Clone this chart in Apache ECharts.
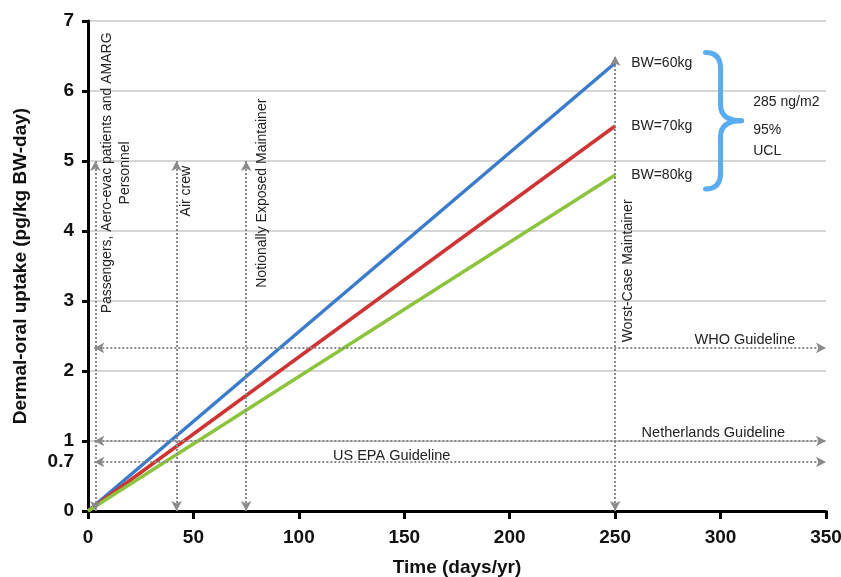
<!DOCTYPE html>
<html>
<head>
<meta charset="utf-8">
<script src="https://cdn.jsdelivr.net/npm/echarts@6/dist/echarts.min.js"></script>
<style>
  html, body { margin: 0; padding: 0; background: #fff; }
  #chart { width: 841px; height: 577px; }
</style>
</head>
<body>
<div id="chart"></div>
<script>
// uptake vs exposure days, one line per body weight
const days = [0, 250];
const bw60 = [0, 6.4];
const bw70 = [0, 5.5];
const bw80 = [0, 4.8];
const seriesNames = ['BW=60kg', 'BW=70kg', 'BW=80kg'];

// y tick labels (0.7 is added for the EPA guideline)
const yTicks = [0, 0.7, 1, 2, 3, 4, 5, 6, 7];

// horizontal guidelines
const guideNames = ['WHO Guideline', 'Netherlands Guideline', 'US EPA Guideline'];
const guideValues = [2.33, 1, 0.7];

// exposure groups (days/yr) and how high their arrows go
const groupNames = [
  'Passengers, Aero-evac patients and AMARG\nPersonnel',
  'Air crew',
  'Notionally Exposed Maintainer',
  'Worst-Case Maintainer'
];
const groupDays = [3.5, 42, 75, 250];
const groupTops = [5, 5, 5, 6.5];

const FONT = 'Liberation Sans';
const lineColors = ['#3b7bcc', '#cf3434', '#8cc43d'];

const chart = echarts.init(document.getElementById('chart'));

const series = [bw60, bw70, bw80].map((vals, i) => ({
  name: seriesNames[i],
  type: 'line',
  data: days.map((d, k) => [d, vals[k]]),
  symbol: 'none',
  lineStyle: { color: lineColors[i], width: 3.5 },
  itemStyle: { color: lineColors[i] },
  endLabel: {
    show: true, formatter: '{a}', distance: 16,
    color: '#222', fontSize: 14, fontFamily: FONT
  },
  z: 3
}));

// dotted arrows for guidelines and exposure groups
series[0].markLine = {
  silent: true,
  animation: false,
  symbol: ['arrow', 'arrow'],
  symbolSize: [8, 10],
  label: { show: false },
  lineStyle: { color: '#8a8a8a', type: 'dotted', width: 2 },
  emphasis: { disabled: true },
  data: [
    ...guideValues.map(v => [{ coord: [3, v] }, { coord: [350, v] }]),
    ...groupDays.map((d, i) => [{ coord: [d, 0] }, { coord: [d, groupTops[i]] }])
  ]
};

chart.setOption({
  animation: false,
  textStyle: { fontFamily: FONT },
  grid: { left: 88, right: 15, top: 21, bottom: 66, outerBoundsMode: 'none', containLabel: false },
  xAxis: {
    type: 'value', min: 0, max: 350, interval: 50,
    name: 'Time (days/yr)', nameLocation: 'middle', nameGap: 47,
    nameTextStyle: { fontSize: 19, fontWeight: 'bold', color: '#111', fontFamily: FONT },
    axisLine: { show: true, onZero: false, lineStyle: { color: '#000', width: 3 } },
    axisTick: { show: true, length: 8, lineStyle: { color: '#000', width: 3 } },
    axisLabel: { fontSize: 19, fontWeight: 'bold', color: '#111', margin: 17, fontFamily: FONT },
    splitLine: { show: false }
  },
  yAxis: {
    type: 'value', min: 0, max: 7, interval: 1,
    name: 'Dermal-oral uptake (pg/kg BW-day)', nameLocation: 'middle', nameGap: 58,
    nameTextStyle: { fontSize: 19, fontWeight: 'bold', color: '#111', fontFamily: FONT },
    axisLine: { show: true, lineStyle: { color: '#000', width: 3 } },
    axisTick: { show: true, length: 6, lineStyle: { color: '#000', width: 3 } },
    axisLabel: {
      customValues: yTicks,
      fontSize: 19, fontWeight: 'bold', color: '#111', margin: 14, fontFamily: FONT
    },
    splitLine: { show: true, lineStyle: { color: '#c8c8c8', width: 1.5 } }
  },
  series: series
});

// annotation text, placed through the chart's own scale
const toPx = (x, y) => chart.convertToPixel({ gridIndex: 0 }, [x, y]);
const txt = (x, y, text, extra) => Object.assign({
  type: 'text', x: x, y: y, silent: true, z: 10,
  style: {
    text: text, fill: '#222', fontSize: 14, fontFamily: FONT,
    align: 'center', verticalAlign: 'middle',
    textAlign: 'center', textVerticalAlign: 'middle', lineHeight: 18
  }
}, extra || {});

const graphics = [];

// group labels: [pixel offset right of the arrow, y value of label centre]
const groupLabelPos = [[21, 4.83], [10, 4.57], [16, 4.54], [13, 3.43]];
groupNames.forEach((name, i) => {
  const p = toPx(groupDays[i], groupLabelPos[i][1]);
  graphics.push(txt(p[0] + groupLabelPos[i][0], p[1], name, { rotation: Math.PI / 2 }));
});

// guideline labels: [x value of anchor, alignment, pixel lift]
const guideLabelPos = [[335.4, 'right', 8], [330.6, 'right', 8], [116.2, 'left', 6]];
guideNames.forEach((name, i) => {
  const p = toPx(guideLabelPos[i][0], guideValues[i]);
  const t = txt(p[0], p[1] - guideLabelPos[i][2], name);
  t.style.align = t.style.textAlign = guideLabelPos[i][1];
  t.style.fontSize = 14.5;
  graphics.push(t);
});

// curly brace grouping the three body weights
const bTop = toPx(300, 6.55), bBot = toPx(300, 4.6);
const bx = bTop[0], ty = bTop[1], by = bBot[1], my = (ty + by) / 2;
const braceStyle = { stroke: '#5aacf0', lineWidth: 5, fill: null, lineCap: 'round' };
const seg = (type, shape) => ({ type: type, shape: shape, style: braceStyle, silent: true, z: 10 });
graphics.push(
  seg('bezierCurve', { x1: bx - 15, y1: ty, cpx1: bx, cpy1: ty, x2: bx, y2: ty + 16 }),
  seg('line', { x1: bx, y1: ty + 16, x2: bx, y2: my - 16 }),
  seg('bezierCurve', { x1: bx, y1: my - 16, cpx1: bx, cpy1: my, x2: bx + 21, y2: my }),
  seg('bezierCurve', { x1: bx + 21, y1: my, cpx1: bx, cpy1: my, x2: bx, y2: my + 16 }),
  seg('line', { x1: bx, y1: my + 16, x2: bx, y2: by - 16 }),
  seg('bezierCurve', { x1: bx, y1: by - 16, cpx1: bx, cpy1: by, x2: bx - 15, y2: by })
);

const c1 = toPx(315.5, 5.84), c2 = toPx(315.5, 5.29);
const t1 = txt(c1[0], c1[1], '285 ng/m2');
const t2 = txt(c2[0], c2[1], '95%\nUCL');
t1.style.align = t1.style.textAlign = 'left';
t2.style.align = t2.style.textAlign = 'left';
t2.style.lineHeight = 21;
graphics.push(t1, t2);

chart.setOption({ graphic: graphics });
</script>
</body>
</html>
